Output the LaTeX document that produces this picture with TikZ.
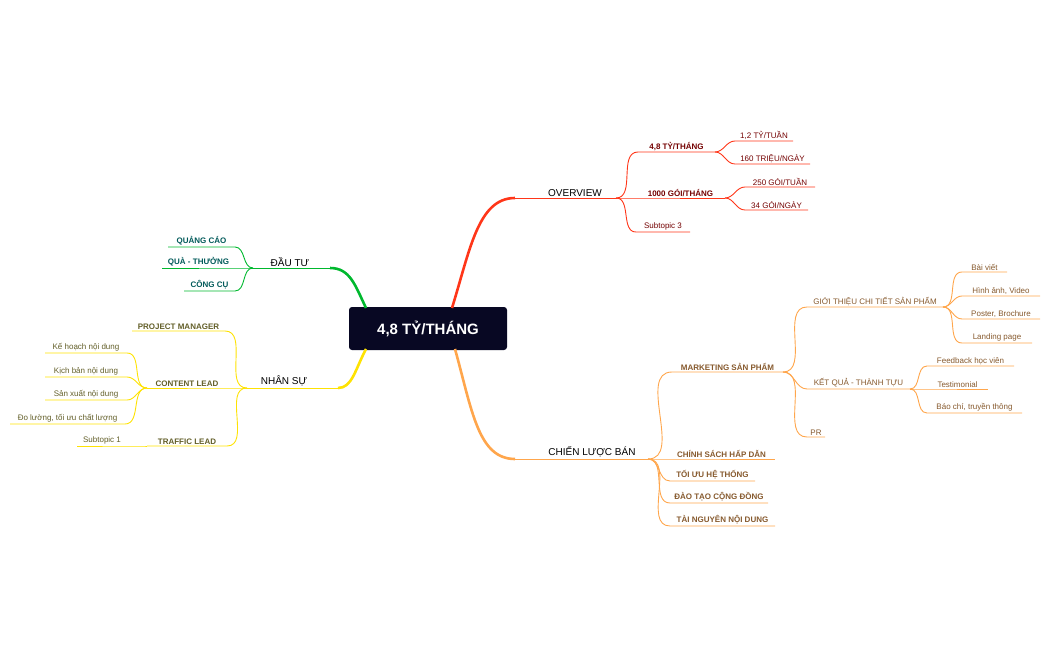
\documentclass[tikz,border=0pt]{standalone}
\usepackage{fontspec}
\setmainfont{Liberation Sans}
\begin{document}
\begin{tikzpicture}[x=1pt,y=-1pt,
  lbl/.style={anchor=south,inner sep=1.5pt,font=\fontsize{8}{9}\selectfont},
  blbl/.style={lbl,font=\fontsize{8}{9}\selectfont\bfseries},
  mlbl/.style={lbl,font=\fontsize{10}{11}\selectfont,text=black},
  rd/.style={draw=red!75!orange!90!white,line width=0.9pt},
  rdt/.style={text=red!45!black},
  gr/.style={draw=green!60!teal!90!black,line width=0.9pt},
  grt/.style={text=teal!70!black},
  yl/.style={draw=yellow!85!orange,line width=0.9pt},
  ylt/.style={text=olive!60!black},
  og/.style={draw=orange!70!white,line width=0.9pt},
  ogt/.style={text=brown!70!black}]
\useasboundingbox (0,0) rectangle (1050,650);
% right leaf: name, parent, x1, x2, y, text, linestyle, textstyle
\newcommand\leafR[8]{%
  \coordinate (#1s) at (#3,#5); \coordinate (#1e) at (#4,#5);
  \draw[#7] (#2) to[out=0,in=180] (#1s) -- (#1e);
  \node[#8] (#1) at ($(#1s)!0.5!(#1e)$) {#6};}
\newcommand\leafL[8]{%
  \coordinate (#1s) at (#3,#5); \coordinate (#1e) at (#4,#5);
  \draw[#7] (#2) to[out=180,in=0] (#1e) -- (#1s);
  \node[#8] (#1) at ($(#1s)!0.5!(#1e)$) {#6};}
\usetikzlibrary{calc}
% center
\node[fill={rgb,255:red,8;green,8;blue,35},rounded corners=3pt,minimum width=158pt,minimum height=43pt,text=white,font=\fontsize{15}{16}\selectfont\bfseries] (root) at (428,328.5) {4,8 TỶ/THÁNG};
\coordinate (rtop) at (452,308); \coordinate (rbot) at (455,349);
\coordinate (ltop) at (366,308); \coordinate (lbot) at (366,349);
% OVERVIEW
\coordinate (ovs) at (515,198); \coordinate (ov) at (616,198);
\draw[rd,line width=2.6pt] (rtop) .. controls (470,250) and (478,198) .. (ovs);
\draw[rd] (ovs) -- (ov);
\node[mlbl] (ovl) at (575,198) {OVERVIEW};
\leafR{a1}{ov}{638}{715}{152}{4,8 TỶ/THÁNG}{rd}{blbl,rdt}
\leafR{a11}{a1e}{735}{793}{141}{1,2 TỶ/TUẦN}{rd}{lbl,rdt}
\leafR{a12}{a1e}{735}{810}{164}{160 TRIỆU/NGÀY}{rd}{lbl,rdt}
\leafR{a2}{ov}{636}{725}{198}{1000 GÓI/THÁNG}{rd}{blbl,rdt}
\leafR{a21}{a2e}{745}{815}{187}{250 GÓI/TUẦN}{rd}{lbl,rdt}
\leafR{a22}{a2e}{745}{808}{210}{34 GÓI/NGÀY}{rd}{lbl,rdt}
\leafR{a3}{ov}{636}{690}{232}{Subtopic 3}{rd}{lbl,rdt}
% DAU TU
\coordinate (dts) at (330,268); \coordinate (dt) at (253,268);
\draw[gr,line width=2.6pt] (ltop) .. controls (355,285) and (350,268) .. (dts);
\draw[gr] (dts) -- (dt);
\node[mlbl] (dtl) at (290,268) {ĐẦU TƯ};
\leafL{b1}{dt}{168}{235}{247}{QUẢNG CÁO}{gr}{blbl,grt}
\leafL{b2}{dt}{162}{235}{268}{QUÀ - THƯỞNG}{gr}{blbl,grt}
\leafL{b3}{dt}{184}{235}{291}{CÔNG CỤ}{gr}{blbl,grt}
% NHAN SU
\coordinate (nss) at (338,388); \coordinate (ns) at (247,388);
\draw[yl,line width=2.6pt] (lbot) .. controls (355,370) and (352,388) .. (nss);
\draw[yl] (nss) -- (ns);
\node[mlbl] (nsl) at (284,388) {NHÂN SỰ};
\leafL{c1}{ns}{132}{225}{331}{PROJECT MANAGER}{yl}{blbl,ylt}
\leafL{c2}{ns}{147}{227}{388}{CONTENT LEAD}{yl}{blbl,ylt}
\leafL{c21}{c2s}{45}{127}{353}{Kế hoạch nội dung}{yl}{lbl,ylt}
\leafL{c22}{c2s}{45}{127}{377}{Kịch bản nội dung}{yl}{lbl,ylt}
\leafL{c23}{c2s}{45}{127}{400}{Sản xuất nội dung}{yl}{lbl,ylt}
\leafL{c24}{c2s}{10}{125}{424}{Đo lường, tối ưu chất lượng}{yl}{lbl,ylt}
\leafL{c3}{ns}{147}{227}{446}{TRAFFIC LEAD}{yl}{blbl,ylt}
\leafL{c31}{c3s}{77}{127}{446}{Subtopic 1}{yl}{lbl,ylt}
% CHIEN LUOC BAN
\coordinate (cls) at (515,459); \coordinate (cl) at (648,459);
\draw[og,line width=2.6pt] (rbot) .. controls (472,410) and (478,459) .. (cls);
\draw[og] (cls) -- (cl);
\node[mlbl] (cll) at (592,459) {CHIẾN LƯỢC BÁN};
\leafR{d1}{cl}{672}{783}{372}{MARKETING SẢN PHẨM}{og}{blbl,ogt}
\leafR{d11}{d1e}{807}{943}{307}{GIỚI THIỆU CHI TIẾT SẢN PHẨM}{og}{lbl,ogt}
\leafR{d111}{d11e}{962}{1007}{272}{Bài viết}{og}{lbl,ogt}
\leafR{d112}{d11e}{962}{1040}{296}{Hình ảnh, Video}{og}{lbl,ogt}
\leafR{d113}{d11e}{962}{1040}{319}{Poster, Brochure}{og}{lbl,ogt}
\leafR{d114}{d11e}{962}{1032}{343}{Landing page}{og}{lbl,ogt}
\leafR{d12}{d1e}{807}{910}{389}{KẾT QUẢ - THÀNH TỰU}{og}{lbl,ogt}
\leafR{d121}{d12e}{927}{1014}{366}{Feedback học viên}{og}{lbl,ogt}
\leafR{d122}{d12e}{927}{988}{389}{Testimonial}{og}{lbl,ogt}
\leafR{d123}{d12e}{927}{1022}{413}{Báo chí, truyền thông}{og}{lbl,ogt}
\leafR{d13}{d1e}{807}{825}{437}{PR}{og}{lbl,ogt}
\leafR{d2}{cl}{668}{775}{459}{CHÍNH SÁCH HẤP DẪN}{og}{blbl,ogt}
\leafR{d3}{cl}{670}{755}{481}{TỐI ƯU HỆ THỐNG}{og}{blbl,ogt}
\leafR{d4}{cl}{670}{768}{503}{ĐÀO TẠO CỘNG ĐỒNG}{og}{blbl,ogt}
\leafR{d5}{cl}{670}{775}{526}{TÀI NGUYÊN NỘI DUNG}{og}{blbl,ogt}
\end{tikzpicture}
\end{document}
